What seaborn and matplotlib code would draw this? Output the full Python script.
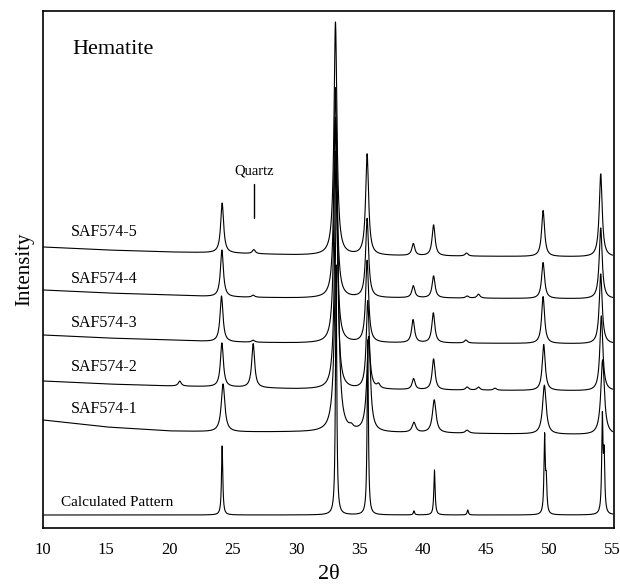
import numpy as np
import pandas as pd
import matplotlib
matplotlib.use("Agg")
import matplotlib.pyplot as plt
import seaborn as sns

# ---------------- data ----------------
trace_names = ["Calculated Pattern", "SAF574-1", "SAF574-2", "SAF574-3", "SAF574-4", "SAF574-5"]

# background anchor points (2theta, intensity)
bg_x = [10, 15, 20, 24, 30, 40, 55]
bg_calc = [13, 13, 13, 13, 13, 13, 13]
bg_1 = [108, 101, 97, 96, 96, 95, 93]
bg_2 = [147, 144, 142, 141, 139, 138, 137]
bg_3 = [193, 190, 188, 186, 185, 185, 184]
bg_4 = [238, 235, 233, 231, 230, 230, 229]
bg_5 = [281, 278, 276, 275, 273, 272, 271]

# peak positions (2theta) and heights above background
pk_calc_pos = [24.15, 33.15, 35.65, 39.30, 40.92, 43.55, 49.62, 49.75, 54.18, 54.32]
pk_calc_h = [69, 250, 175, 4, 45, 5, 77, 30, 95, 55]
pk_1_pos = [24.22, 33.20, 34.35, 35.72, 39.30, 40.90, 43.50, 49.60, 54.20]
pk_1_h = [48, 240, 3, 95, 10, 33, 3, 49, 75]
pk_2_pos = [20.80, 24.13, 26.60, 33.15, 35.65, 36.50, 39.27, 40.85, 43.50, 44.40, 45.70, 49.55, 54.10]
pk_2_h = [5, 44, 44, 238, 88, 4, 11, 31, 3, 3, 2, 46, 75]
pk_3_pos = [24.10, 26.60, 33.10, 35.60, 39.23, 40.83, 43.40, 49.50, 54.05]
pk_3_h = [46, 2, 225, 82, 23, 30, 3, 47, 70]
pk_4_pos = [24.13, 26.60, 33.10, 35.60, 39.25, 40.85, 43.50, 44.40, 49.50, 54.05]
pk_4_h = [47, 2, 210, 79, 12, 22, 2, 4, 36, 71]
pk_5_pos = [24.15, 26.65, 33.10, 35.60, 39.25, 40.85, 43.45, 49.50, 54.05]
pk_5_h = [50, 4, 233, 101, 12, 31, 3, 46, 83]

# half widths (2theta)
hw_calc = 0.06
hw_1 = 0.17
hw_2 = 0.14
hw_3 = 0.14
hw_4 = 0.14
hw_5 = 0.14

x_ticks = [10, 15, 20, 25, 30, 35, 40, 45, 50, 55]

# ---------------- build profiles ----------------
two_theta = np.arange(10.0, 55.0001, 0.01)

def profile(bg, pos, h, hw):
    y = np.interp(two_theta, bg_x, bg)
    for p, a in zip(pos, h):
        y = y + a * hw**2 / ((two_theta - p) ** 2 + hw**2)
    return y

series = {
    "Calculated Pattern": profile(bg_calc, pk_calc_pos, pk_calc_h, hw_calc),
    "SAF574-1": profile(bg_1, pk_1_pos, pk_1_h, hw_1),
    "SAF574-2": profile(bg_2, pk_2_pos, pk_2_h, hw_2),
    "SAF574-3": profile(bg_3, pk_3_pos, pk_3_h, hw_3),
    "SAF574-4": profile(bg_4, pk_4_pos, pk_4_h, hw_4),
    "SAF574-5": profile(bg_5, pk_5_pos, pk_5_h, hw_5),
}
df = pd.concat(
    [pd.DataFrame({"2θ": two_theta, "Intensity": v, "sample": k}) for k, v in series.items()],
    ignore_index=True,
)

# ---------------- plot ----------------
sns.set_theme(style="white")
plt.rcParams["font.family"] = ["Liberation Serif", "DejaVu Serif"]
plt.rcParams["text.color"] = "black"
plt.rcParams["axes.labelcolor"] = "black"
plt.rcParams["xtick.color"] = "black"
plt.rcParams["ytick.color"] = "black"

fig = plt.figure(figsize=(6.2, 5.86), dpi=100)
ax = fig.add_axes([43 / 620, 58 / 586, (614 - 43) / 620, (528 - 11) / 586])

for name in trace_names:
    sns.lineplot(data=df[df["sample"] == name], x="2θ", y="Intensity",
                 color="black", linewidth=0.8, estimator=None, ax=ax)

ax.set_xlim(10, 55.1)
ax.set_ylim(0, 517)
ax.set_xticks(x_ticks)
ax.set_xticklabels([str(t) for t in x_ticks], fontsize=12, color="black")
ax.set_yticks([])
ax.tick_params(axis="x", length=0, pad=10)
ax.set_xlabel("2θ", fontsize=16, labelpad=5, color="black")
ax.set_ylabel("Intensity", fontsize=15, labelpad=6, color="black")
for s in ax.spines.values():
    s.set_color("black")
    s.set_linewidth(1.2)

# trace labels
label_y = {"SAF574-5": 296, "SAF574-4": 249, "SAF574-3": 205, "SAF574-2": 161, "SAF574-1": 119}
for k, yv in label_y.items():
    ax.text(12.2, yv, k, fontsize=11.5, ha="left", va="center", color="black")
ax.text(11.4, 26, "Calculated Pattern", fontsize=11, ha="left", va="center", color="black")
ax.text(12.3, 478, "Hematite", fontsize=16, ha="left", va="center", color="black")
ax.text(26.7, 357, "Quartz", fontsize=10.5, ha="center", va="center", color="black")
ax.plot([26.7, 26.7], [310, 344], color="black", linewidth=1.0)

fig.savefig("out.png", dpi=100)
